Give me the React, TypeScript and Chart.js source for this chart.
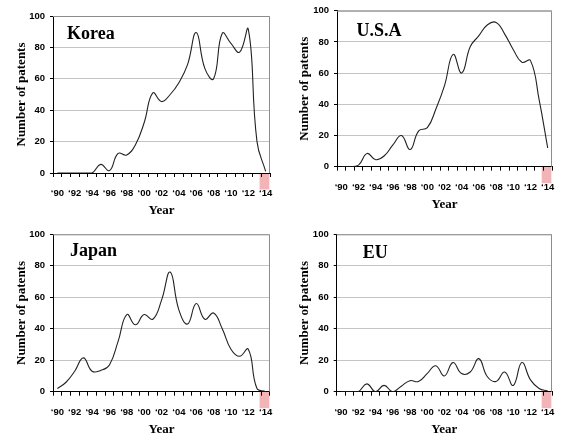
import { useEffect, useRef } from "react";
import { Chart, registerables } from "chart.js";

Chart.register(...registerables);

// Application years on the x axis
const years = [
  "1990", "1991", "1992", "1993", "1994", "1995", "1996", "1997", "1998", "1999",
  "2000", "2001", "2002", "2003", "2004", "2005", "2006", "2007", "2008", "2009",
  "2010", "2011", "2012", "2013", "2014",
];

// Only even years carry a label
const yearTicks = [
  "‘90", "", "‘92", "", "‘94", "", "‘96", "", "‘98", "", "‘00", "", "‘02", "",
  "‘04", "", "‘06", "", "‘08", "", "‘10", "", "‘12", "", "‘14",
];

const yTicks = [0, 20, 40, 60, 80, 100];

// Number of patents per year
const koreaPatents = [
  0, 0, 0, 0, 0, 5.5, 1.5, 12.5, 11.5, 18, 32, 51, 45.5, 50, 57.5, 69, 89.5, 66.5, 60, 89,
  82.5, 77, 91.5, 20, 1,
];
const usaPatents = [
  0, 0, 1, 8.5, 4.5, 7, 14, 20, 11, 23, 25, 37, 52, 72, 60, 77, 84, 91, 92.5, 85, 75, 67,
  68, 43, 12,
];
const japanPatents = [
  2, 6, 13, 21.5, 13, 13.5, 17, 32, 49, 42.5, 49, 46, 58, 76, 52, 43, 56, 46, 50, 40, 27,
  22.5, 27, 2, 0,
];
const euPatents = [
  0, 0, 0, 5, 0, 4, 0, 3.5, 7, 6.5, 11.5, 16.5, 10, 18.5, 11.5, 12.5, 21, 9.5, 6.5, 12.5,
  4, 18.5, 7.5, 2, 0.5,
];

// The last year is still incomplete and gets a shaded marker under the axis
const partialYear = "2014";

type PanelSpec = {
  name: string;
  values: number[];
  left: number;
  top: number;
  width: number;
  height: number;
  padTop: number;
  padRight: number;
  padBottom: number;
  yAxisWidth: number;
  nameDx: number;
  nameDy: number;
};

const panels: PanelSpec[] = [
  { name: "Korea", values: koreaPatents, left: 0, top: 0, width: 283, height: 220, padTop: 16, padRight: 11.5, padBottom: 1, yAxisWidth: 53, nameDx: 14, nameDy: 23 },
  { name: "U.S.A", values: usaPatents, left: 283, top: 0, width: 282, height: 220, padTop: 9.3, padRight: 9, padBottom: 7.3, yAxisWidth: 54, nameDx: 19.5, nameDy: 25 },
  { name: "Japan", values: japanPatents, left: 0, top: 219, width: 283, height: 220, padTop: 15.3, padRight: 12.5, padBottom: 1.3, yAxisWidth: 53, nameDx: 17, nameDy: 21.7 },
  { name: "EU", values: euPatents, left: 283, top: 219, width: 282, height: 220, padTop: 15.3, padRight: 10, padBottom: 1.3, yAxisWidth: 53.7, nameDx: 26, nameDy: 23.4 },
];

const tickFont = {
  family: "'Liberation Sans Narrow', 'Arial Narrow', 'Liberation Sans', Arial, sans-serif",
  size: 9.5,
  weight: "bold" as const,
};
const serifBold = (size: number) => ({
  family: "'Liberation Serif', 'Times New Roman', serif",
  size,
  weight: "bold" as const,
});

function PatentPanel({ spec }: { spec: PanelSpec }) {
  const ref = useRef<HTMLCanvasElement | null>(null);

  useEffect(() => {
    const canvas = ref.current;
    if (!canvas) return;

    const frame = {
      id: "frame",
      beforeDraw(chart: any) {
        // shaded marker for the incomplete year, beneath the tick labels
        const { ctx, chartArea } = chart;
        const xs = chart.scales.x;
        const idx = years.indexOf(partialYear);
        const x0 = xs.getPixelForValue(idx - 0.7);
        const x1 = xs.getPixelForValue(idx + 0.42);
        ctx.save();
        ctx.fillStyle = "#f2b4b6";
        ctx.fillRect(x0, chartArea.bottom, x1 - x0, 16.5);
        ctx.restore();
      },
      beforeDatasetsDraw(chart: any) {
        // plot-area outline on the top and right sides
        const { ctx, chartArea } = chart;
        ctx.save();
        ctx.strokeStyle = "#8c8c8c";
        ctx.lineWidth = 1;
        ctx.beginPath();
        ctx.moveTo(chartArea.left, chartArea.top + 0.5);
        ctx.lineTo(chartArea.right - 0.5, chartArea.top + 0.5);
        ctx.lineTo(chartArea.right - 0.5, chartArea.bottom);
        ctx.stroke();
        ctx.restore();
      },
      afterDraw(chart: any) {
        const { ctx, chartArea } = chart;
        ctx.save();
        ctx.fillStyle = "#000";
        ctx.font = "bold 18px 'Liberation Serif', 'Times New Roman', serif";
        ctx.textBaseline = "alphabetic";
        ctx.textAlign = "left";
        ctx.fillText(spec.name, chartArea.left + spec.nameDx, chartArea.top + spec.nameDy);
        ctx.restore();
      },
    };

    const chart = new Chart(canvas, {
      type: "line",
      data: {
        labels: years,
        datasets: [
          {
            data: spec.values,
            borderColor: "#222",
            borderWidth: 1.1,
            pointRadius: 0,
            tension: 0.45,
            fill: false,
          },
        ],
      },
      options: {
        responsive: false,
        animation: false,
        devicePixelRatio: 1,
        layout: {
          padding: { left: 0, top: spec.padTop, right: spec.padRight, bottom: spec.padBottom },
        },
        plugins: {
          legend: { display: false },
          tooltip: { enabled: false },
          title: { display: false },
        },
        scales: {
          x: {
            type: "category",
            offset: true,
            grid: {
              offset: true,
              drawOnChartArea: false,
              drawTicks: true,
              tickLength: 4,
              tickColor: "#000",
            },
            border: { display: true, color: "#000", width: 1 },
            ticks: {
              autoSkip: false,
              maxRotation: 0,
              minRotation: 0,
              padding: 10.5,
              color: "#000",
              font: tickFont,
              callback: (_v: any, i: number) => yearTicks[i],
            },
            title: {
              display: true,
              text: "Year",
              color: "#000",
              font: serifBold(13),
              padding: { top: 0, bottom: 0.7 },
            },
            afterFit: (s: any) => {
              s.height = 46;
            },
          },
          y: {
            min: 0,
            max: 100,
            afterBuildTicks: (s: any) => {
              s.ticks = yTicks.map((v) => ({ value: v }));
            },
            grid: {
              color: "#c4c4c4",
              lineWidth: 1,
              tickLength: 3,
              tickColor: "#000",
            },
            border: { display: true, color: "#000", width: 1 },
            ticks: {
              padding: 5,
              color: "#000",
              font: tickFont,
            },
            title: {
              display: true,
              text: "Number of patents",
              color: "#000",
              font: serifBold(13),
              padding: { top: 14.2, bottom: 0 },
            },
            afterFit: (s: any) => {
              s.width = spec.yAxisWidth;
            },
          },
        },
      },
      plugins: [frame],
    });

    return () => chart.destroy();
  }, [spec]);

  return (
    <canvas
      ref={ref}
      width={spec.width}
      height={spec.height}
      style={{
        position: "absolute",
        left: spec.left,
        top: spec.top,
        width: spec.width,
        height: spec.height,
      }}
    />
  );
}

export default function App() {
  return (
    <div
      style={{
        position: "fixed",
        left: 0,
        top: 0,
        width: 565,
        height: 437,
        overflow: "hidden",
        background: "#fff",
      }}
    >
      {panels.map((p) => (
        <PatentPanel key={p.name} spec={p} />
      ))}
    </div>
  );
}
